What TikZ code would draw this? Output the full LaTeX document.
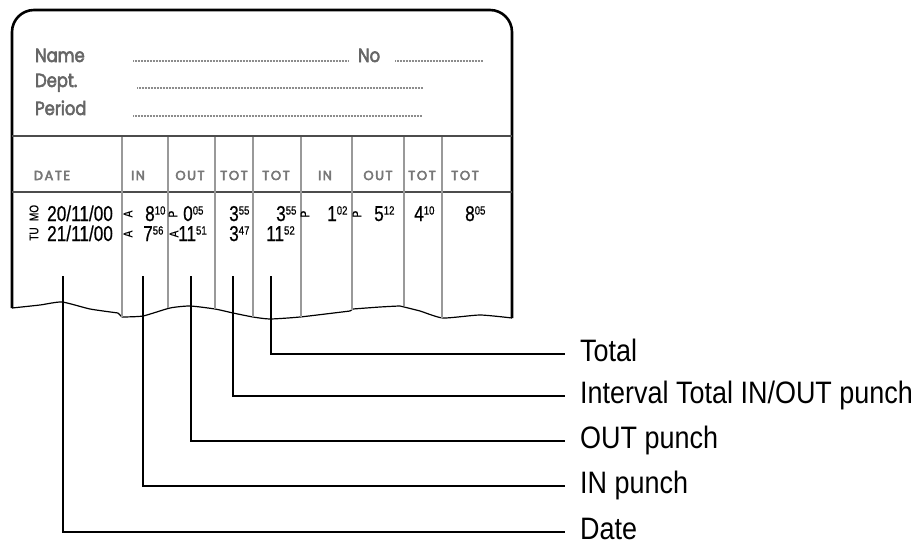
\documentclass[tikz,border=0pt]{standalone}
\usepackage{fontspec}
\setmainfont{Liberation Sans}
\newfontfamily\lblfont[FakeStretch=0.87]{Liberation Sans}
\newfontfamily\numfont[FakeStretch=0.8, FakeBold=0.6]{Liberation Sans}
\newfontfamily\cardfont[FakeStretch=0.86, FakeBold=3]{Poppins}
\newfontfamily\hdrfont[LetterSpace=12, FakeBold=4]{Poppins}
\definecolor{cardgray}{HTML}{666666}
\definecolor{hdrgray}{HTML}{777777}
\definecolor{colgray}{HTML}{999999}
\newcommand\tsup[1]{\raisebox{6.4pt}{\fontsize{12}{12}\selectfont #1}}
\tikzset{
  leader/.style={line width=1.8pt, black},
  lbl/.style={anchor=base west, inner sep=0pt, font=\lblfont\fontsize{31}{31}\selectfont},
  colline/.style={line width=2.4pt, colgray},
  sepline/.style={line width=2.2pt, black!70},
  edge/.style={line width=2.6pt, black},
  dotline/.style={line width=1.3pt, black!45, dash pattern=on 0.9pt off 0.6pt},
  cardtxt/.style={anchor=base west, inner sep=0pt, text=cardgray, font=\cardfont\fontsize{19}{19}\selectfont},
  hdr/.style={anchor=base, inner sep=0pt, text=hdrgray, font=\hdrfont\fontsize{13}{13}\selectfont},
  val/.style={anchor=base west, inner sep=0pt, font=\numfont\fontsize{21.5}{21.5}\selectfont},
  rot/.style={rotate=90, inner sep=0pt, font=\numfont\fontsize{12.5}{12.5}\selectfont}
}
\begin{document}
\begin{tikzpicture}[x=1pt, y=-1pt]
\useasboundingbox (0,0) rectangle (919,546);
% card outline
\draw[edge, rounded corners=22pt] (12,308) -- (12,10) -- (512,10) -- (512,318);
% wavy bottom
\draw[line width=1.2pt] plot[smooth, tension=0.35] coordinates {(12,308) (40,305) (62,302) (90,309) (118,313)};
\draw[line width=1.2pt] (118,313) -- (122,317);
\draw[line width=1.2pt] plot[smooth, tension=0.35] coordinates {(122,317) (143,316) (170,308) (190,306) (215,309) (233,313) (253,317) (270,319) (300,317) (350,311)};
\draw[line width=1.2pt] (350,311) -- (353,309);
\draw[line width=1.2pt] plot[smooth, tension=0.35] coordinates {(353,309) (380,307) (400,306) (404,307) (420,311) (443,318) (480,315) (512,318)};
% separators
\draw[sepline] (12,136) -- (512,136);
\draw[sepline] (12,192) -- (512,192);
% column lines
\foreach \cx/\cy in {122/317, 168/308, 215/309, 253/317, 301/317, 352/310, 404/306, 442/318}
  \draw[colline] (\cx,137) -- (\cx,\cy);
% heading texts
\node[cardtxt] (name) at (35,62) {Name};
\node[cardtxt] (dept) at (35,87) {Dept.};
\node[cardtxt] (period) at (35,115) {Period};
\node[cardtxt] (no) at (358,62) {No};
\coordinate (n1) at (133,61); \coordinate (n2) at (348,61);
\coordinate (o1) at (395,61); \coordinate (o2) at (483,61);
\coordinate (d1) at (137,88); \coordinate (d2) at (423,88);
\coordinate (p1) at (133,116); \coordinate (p2) at (422,116);
\draw[dotline] (n1) -- (n2);
\draw[dotline] (o1) -- (o2);
\draw[dotline] (d1) -- (d2);
\draw[dotline] (p1) -- (p2);
% column headers
\node[hdr] (h1) at (52,180) {DATE};
\node[hdr] (h2) at (138,180) {IN};
\node[hdr] (h3) at (190,180) {OUT};
\node[hdr] (h4) at (234,180) {TOT};
\node[hdr] (h5) at (276,180) {TOT};
\node[hdr] (h6) at (325,180) {IN};
\node[hdr] (h7) at (378,180) {OUT};
\node[hdr] (h8) at (422,180) {TOT};
\node[hdr] (h9) at (465,180) {TOT};
% row 1
\node[rot] (mo) at (34,213) {MO};
\node[val] (r1d) at (47,221) {20/11/00};
\node[rot] (r1a) at (128,214) {A};
\node[val] (r1in) at (145,221) {8\tsup{10}};
\node[rot] (r1p) at (173,214) {P};
\node[val] (r1out) at (183,221) {0\tsup{05}};
\node[val] (r1t1) at (229,221) {3\tsup{55}};
\node[val] (r1t2) at (276,221) {3\tsup{55}};
\node[rot] (r1p2) at (305,214) {P};
\node[val] (r1in2) at (327,221) {1\tsup{02}};
\node[rot] (r1p3) at (357,214) {P};
\node[val] (r1out2) at (374,221) {5\tsup{12}};
\node[val] (r1t3) at (414,221) {4\tsup{10}};
\node[val] (r1t4) at (465,221) {8\tsup{05}};
% row 2
\node[rot] (tu) at (34,234) {TU};
\node[val] (r2d) at (47,241) {21/11/00};
\node[rot] (r2a) at (128,234) {A};
\node[val] (r2in) at (143,241) {7\tsup{56}};
\node[rot] (r2a2) at (174,234) {A};
\node[val] (r2out) at (178,241) {11\tsup{51}};
\node[val] (r2t1) at (229,241) {3\tsup{47}};
\node[val] (r2t2) at (266,241) {11\tsup{52}};
% leader start points
\coordinate (sDate) at (63,276);
\coordinate (sIn) at (143,276);
\coordinate (sOut) at (191,276);
\coordinate (sInt) at (233,276);
\coordinate (sTot) at (271,276);
% labels
\node[lbl] (lTot) at (580,361) {Total};
\node[lbl] (lInt) at (580,403) {Interval Total IN/OUT punch};
\node[lbl] (lOut) at (580,448) {OUT punch};
\node[lbl] (lIn) at (580,493) {IN punch};
\node[lbl] (lDate) at (580,539) {Date};
\coordinate (eTot) at (565,354);
\coordinate (eInt) at (565,396);
\coordinate (eOut) at (565,441);
\coordinate (eIn) at (565,486);
\coordinate (eDate) at (565,532);
\draw[leader] (sTot) |- (eTot);
\draw[leader] (sInt) |- (eInt);
\draw[leader] (sOut) |- (eOut);
\draw[leader] (sIn) |- (eIn);
\draw[leader] (sDate) |- (eDate);
\end{tikzpicture}
\end{document}
